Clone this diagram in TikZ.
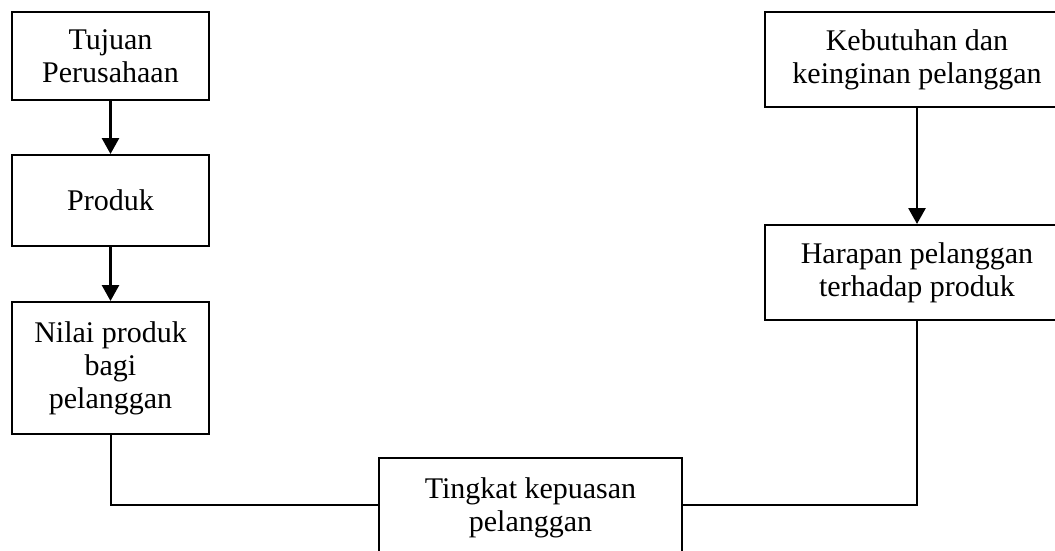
\documentclass[tikz,border=0pt]{standalone}
\usepackage{fontspec}
\setmainfont{Liberation Serif}
\usetikzlibrary{arrows.meta}
\begin{document}
\begin{tikzpicture}[x=1pt,y=-1pt,
  box/.style={draw=black,line width=2pt,align=center,inner sep=0pt,
    font=\fontsize{30}{33}\selectfont},
  link/.style={draw=black,line width=2pt},
  arr/.style={draw=black,line width=2.8pt,-{Triangle[length=16pt,width=17pt]}}]
\useasboundingbox (0,0) rectangle (1055,551);
\node[box,minimum width=197pt,minimum height=88pt] (tujuan) at (110.5,56) {Tujuan\\Perusahaan};
\node[box,minimum width=197pt,minimum height=91pt] (produk) at (110.5,200.5) {Produk};
\node[box,minimum width=197pt,minimum height=132pt] (nilai) at (110.5,368) {Nilai produk\\bagi\\pelanggan};
\node[box,minimum width=303pt,minimum height=100pt] (tingkat) at (530.5,508) {Tingkat kepuasan\\pelanggan};
\node[box,minimum width=304pt,minimum height=95pt] (kebutuhan) at (917,59.5) {Kebutuhan dan\\keinginan pelanggan};
\node[box,minimum width=304pt,minimum height=95pt] (harapan) at (917,272.5) {Harapan pelanggan\\terhadap produk};
\coordinate (tl) at (379,505);
\coordinate (tr) at (682,505);
\draw[arr] (tujuan.south) -- (produk.north);
\draw[arr] (produk.south) -- (nilai.north);
\draw[arr] (kebutuhan.south) -- (harapan.north);
\draw[link] (nilai.south) |- (tl);
\draw[link] (harapan.south) |- (tr);
\end{tikzpicture}
\end{document}
